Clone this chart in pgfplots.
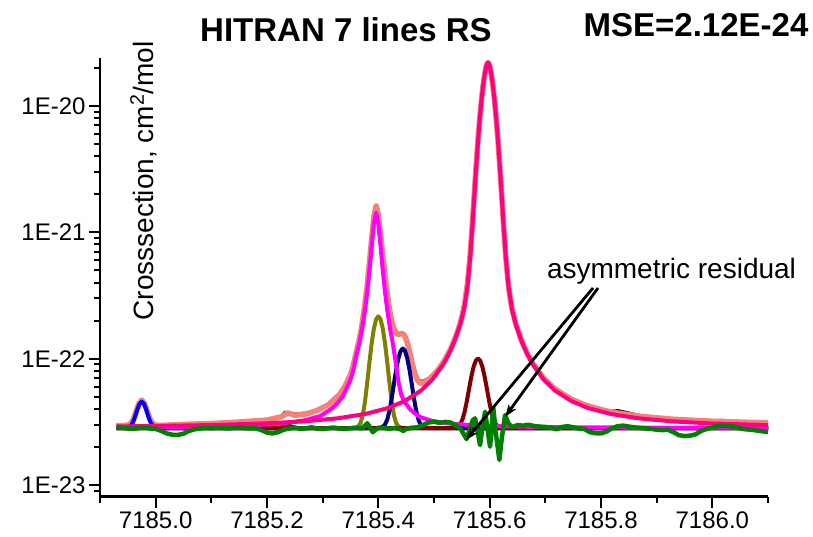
\documentclass[border=0pt]{standalone}
\usepackage{fontspec}
\setmainfont{Liberation Sans}
\usepackage{pgfplots}
\pgfplotsset{compat=1.18}
\usetikzlibrary{arrows.meta}

\definecolor{cData}{RGB}{0,0,0}
\definecolor{cSum}{RGB}{245,130,120}
\definecolor{cMag}{RGB}{255,0,255}
\definecolor{cOlive}{RGB}{128,128,0}
\definecolor{cNavy}{RGB}{0,0,128}
\definecolor{cBlue}{RGB}{0,0,255}
\definecolor{cWine}{RGB}{128,0,0}
\definecolor{cPink}{RGB}{255,0,128}
\definecolor{cRes}{RGB}{0,128,0}

% measured spectrum
\pgfplotstableread{
x y
7184.930 3.020e-23
7184.940 2.990e-23
7184.950 3.010e-23
7184.955 3.090e-23
7184.960 3.340e-23
7184.965 3.840e-23
7184.970 4.450e-23
7184.975 4.700e-23
7184.980 4.400e-23
7184.985 3.800e-23
7184.990 3.290e-23
7184.995 3.040e-23
7185.000 2.950e-23
7185.010 2.920e-23
7185.020 2.880e-23
7185.035 2.860e-23
7185.050 2.920e-23
7185.070 3.040e-23
7185.085 3.070e-23
7185.100 3.090e-23
7185.120 3.130e-23
7185.135 3.120e-23
7185.150 3.180e-23
7185.170 3.200e-23
7185.185 3.230e-23
7185.200 3.280e-23
7185.215 3.340e-23
7185.225 3.500e-23
7185.232 3.760e-23
7185.240 3.740e-23
7185.250 3.650e-23
7185.260 3.680e-23
7185.270 3.700e-23
7185.280 3.800e-23
7185.290 3.940e-23
7185.300 4.100e-23
7185.310 4.360e-23
7185.320 4.700e-23
7185.330 5.260e-23
7185.340 6.100e-23
7185.350 7.550e-23
7185.355 8.850e-23
7185.360 1.106e-22
7185.365 1.359e-22
7185.370 1.776e-22
7185.375 2.506e-22
7185.380 3.808e-22
7185.384 5.704e-22
7185.388 8.831e-22
7185.392 1.328e-21
7185.396 1.614e-21
7185.400 1.373e-21
7185.404 9.570e-22
7185.408 6.525e-22
7185.412 4.536e-22
7185.416 3.246e-22
7185.420 2.455e-22
7185.424 1.984e-22
7185.428 1.727e-22
7185.432 1.591e-22
7185.436 1.548e-22
7185.440 1.574e-22
7185.444 1.574e-22
7185.448 1.499e-22
7185.452 1.340e-22
7185.456 1.138e-22
7185.460 9.510e-23
7185.465 7.900e-23
7185.470 6.980e-23
7185.475 6.650e-23
7185.480 6.620e-23
7185.490 6.950e-23
7185.500 7.600e-23
7185.510 8.600e-23
7185.520 1.000e-22
7185.530 1.205e-22
7185.540 1.535e-22
7185.545 1.777e-22
7185.550 2.134e-22
7185.555 2.715e-22
7185.560 3.879e-22
7185.565 6.689e-22
7185.569 1.182e-21
7185.573 2.203e-21
7185.576 3.481e-21
7185.579 5.328e-21
7185.582 7.795e-21
7185.585 1.083e-20
7185.588 1.425e-20
7185.591 1.777e-20
7185.594 2.077e-20
7185.597 2.205e-20
7185.600 2.075e-20
7185.603 1.773e-20
7185.606 1.420e-20
7185.609 1.077e-20
7185.612 7.725e-21
7185.615 5.255e-21
7185.618 3.410e-21
7185.621 2.138e-21
7185.625 1.130e-21
7185.629 6.310e-22
7185.634 3.670e-22
7185.640 2.483e-22
7185.647 1.900e-22
7185.657 1.425e-22
7185.667 1.135e-22
7185.677 9.450e-23
7185.687 8.100e-23
7185.697 7.150e-23
7185.707 6.450e-23
7185.717 5.900e-23
7185.732 5.280e-23
7185.747 4.860e-23
7185.762 4.500e-23
7185.777 4.300e-23
7185.790 4.120e-23
7185.805 3.880e-23
7185.817 3.830e-23
7185.830 3.880e-23
7185.845 3.760e-23
7185.867 3.560e-23
7185.885 3.450e-23
7185.905 3.360e-23
7185.927 3.300e-23
7185.950 3.250e-23
7185.975 3.200e-23
7185.997 3.190e-23
7186.015 3.250e-23
7186.035 3.220e-23
7186.050 3.120e-23
7186.075 3.060e-23
7186.100 3.040e-23
}\measured

% sum of the seven fitted lines
\pgfplotstableread{
x y
7184.930 2.947e-23
7184.940 2.950e-23
7184.950 2.975e-23
7184.955 3.062e-23
7184.960 3.321e-23
7184.965 3.828e-23
7184.970 4.424e-23
7184.975 4.702e-23
7184.980 4.424e-23
7184.985 3.828e-23
7184.990 3.321e-23
7184.995 3.062e-23
7185.000 2.980e-23
7185.010 2.962e-23
7185.050 3.020e-23
7185.100 3.065e-23
7185.150 3.152e-23
7185.200 3.266e-23
7185.225 3.456e-23
7185.237 3.721e-23
7185.250 3.565e-23
7185.270 3.647e-23
7185.290 3.888e-23
7185.310 4.310e-23
7185.330 5.185e-23
7185.340 6.030e-23
7185.350 7.480e-23
7185.355 8.810e-23
7185.360 1.106e-22
7185.365 1.359e-22
7185.370 1.776e-22
7185.375 2.506e-22
7185.380 3.808e-22
7185.384 5.704e-22
7185.388 8.831e-22
7185.392 1.328e-21
7185.396 1.614e-21
7185.400 1.373e-21
7185.404 9.570e-22
7185.408 6.525e-22
7185.412 4.536e-22
7185.416 3.246e-22
7185.420 2.455e-22
7185.424 1.984e-22
7185.428 1.727e-22
7185.432 1.591e-22
7185.436 1.548e-22
7185.440 1.574e-22
7185.444 1.574e-22
7185.448 1.499e-22
7185.452 1.340e-22
7185.456 1.138e-22
7185.460 9.510e-23
7185.465 7.740e-23
7185.470 6.780e-23
7185.475 6.400e-23
7185.480 6.400e-23
7185.490 6.780e-23
7185.500 7.470e-23
7185.510 8.450e-23
7185.520 9.870e-23
7185.530 1.196e-22
7185.540 1.530e-22
7185.545 1.777e-22
7185.550 2.134e-22
7185.555 2.715e-22
7185.560 3.879e-22
7185.565 6.689e-22
7185.569 1.182e-21
7185.573 2.203e-21
7185.576 3.481e-21
7185.579 5.328e-21
7185.582 7.795e-21
7185.585 1.083e-20
7185.588 1.425e-20
7185.591 1.777e-20
7185.594 2.077e-20
7185.597 2.205e-20
7185.600 2.075e-20
7185.603 1.773e-20
7185.606 1.420e-20
7185.609 1.077e-20
7185.612 7.725e-21
7185.615 5.255e-21
7185.618 3.410e-21
7185.621 2.138e-21
7185.625 1.130e-21
7185.629 6.310e-22
7185.634 3.670e-22
7185.640 2.483e-22
7185.647 1.877e-22
7185.657 1.400e-22
7185.667 1.112e-22
7185.677 9.240e-23
7185.697 6.990e-23
7185.717 5.760e-23
7185.747 4.760e-23
7185.777 4.200e-23
7185.817 3.790e-23
7185.867 3.510e-23
7185.927 3.320e-23
7185.997 3.200e-23
7186.050 3.150e-23
7186.100 3.100e-23
}\fitsum

% individual lines (each on the common baseline)
\pgfplotstableread{
x y
7184.930 2.820e-23
7184.945 2.820e-23
7184.950 2.843e-23
7184.955 2.930e-23
7184.959 3.118e-23
7184.963 3.466e-23
7184.967 3.944e-23
7184.971 4.386e-23
7184.975 4.570e-23
7184.979 4.386e-23
7184.983 3.944e-23
7184.987 3.466e-23
7184.991 3.118e-23
7184.995 2.930e-23
7185.000 2.843e-23
7185.005 2.820e-23
7186.100 2.820e-23
}\lineA

\pgfplotstableread{
x y
7184.930 2.820e-23
7185.215 2.820e-23
7185.222 2.835e-23
7185.228 2.880e-23
7185.233 2.930e-23
7185.237 2.960e-23
7185.241 2.930e-23
7185.246 2.880e-23
7185.252 2.835e-23
7185.259 2.820e-23
7186.100 2.820e-23
}\lineB

\pgfplotstableread{
x y
7184.930 2.855e-23
7184.996 2.865e-23
7185.096 2.900e-23
7185.176 2.970e-23
7185.226 3.070e-23
7185.266 3.240e-23
7185.296 3.520e-23
7185.316 4.020e-23
7185.326 4.420e-23
7185.336 5.020e-23
7185.346 6.220e-23
7185.351 7.020e-23
7185.356 8.420e-23
7185.361 1.082e-22
7185.366 1.322e-22
7185.371 1.732e-22
7185.376 2.422e-22
7185.380 3.362e-22
7185.384 4.962e-22
7185.388 7.702e-22
7185.392 1.174e-21
7185.396 1.428e-21
7185.400 1.174e-21
7185.404 7.702e-22
7185.408 4.962e-22
7185.412 3.362e-22
7185.416 2.422e-22
7185.421 1.732e-22
7185.426 1.322e-22
7185.431 9.420e-23
7185.436 6.620e-23
7185.441 5.220e-23
7185.446 4.620e-23
7185.456 4.020e-23
7185.466 3.670e-23
7185.476 3.440e-23
7185.496 3.220e-23
7185.526 3.070e-23
7185.566 2.980e-23
7185.616 2.920e-23
7185.696 2.875e-23
7185.796 2.855e-23
7186.100 2.835e-23
}\lineC

\pgfplotstableread{
x y
7184.930 2.820e-23
7185.350 2.820e-23
7185.358 2.833e-23
7185.364 2.909e-23
7185.368 3.093e-23
7185.372 3.557e-23
7185.376 4.561e-23
7185.380 6.420e-23
7185.384 9.347e-23
7185.388 1.319e-22
7185.392 1.725e-22
7185.396 2.042e-22
7185.400 2.162e-22
7185.404 2.042e-22
7185.408 1.725e-22
7185.412 1.319e-22
7185.416 9.347e-23
7185.420 6.420e-23
7185.424 4.561e-23
7185.428 3.557e-23
7185.432 3.093e-23
7185.436 2.909e-23
7185.442 2.833e-23
7185.450 2.820e-23
7186.100 2.820e-23
}\lineD

\pgfplotstableread{
x y
7184.930 2.820e-23
7185.394 2.820e-23
7185.402 2.832e-23
7185.408 2.889e-23
7185.412 3.012e-23
7185.416 3.295e-23
7185.420 3.862e-23
7185.424 4.848e-23
7185.428 6.315e-23
7185.432 8.160e-23
7185.436 1.004e-22
7185.440 1.148e-22
7185.444 1.202e-22
7185.448 1.148e-22
7185.452 1.004e-22
7185.456 8.160e-23
7185.460 6.315e-23
7185.464 4.848e-23
7185.468 3.862e-23
7185.472 3.295e-23
7185.476 3.012e-23
7185.480 2.889e-23
7185.486 2.832e-23
7185.494 2.820e-23
7186.100 2.820e-23
}\lineE

\pgfplotstableread{
x y
7184.930 2.820e-23
7185.529 2.820e-23
7185.537 2.836e-23
7185.543 2.900e-23
7185.547 3.026e-23
7185.551 3.293e-23
7185.555 3.794e-23
7185.559 4.616e-23
7185.563 5.780e-23
7185.567 7.187e-23
7185.571 8.585e-23
7185.575 9.630e-23
7185.579 1.002e-22
7185.583 9.630e-23
7185.587 8.585e-23
7185.591 7.187e-23
7185.595 5.780e-23
7185.599 4.616e-23
7185.603 3.794e-23
7185.607 3.293e-23
7185.611 3.026e-23
7185.615 2.900e-23
7185.621 2.836e-23
7185.629 2.820e-23
7186.100 2.820e-23
}\lineF

\pgfplotstableread{
x y
7184.930 2.908e-23
7184.997 2.932e-23
7185.097 2.981e-23
7185.197 3.072e-23
7185.267 3.190e-23
7185.327 3.373e-23
7185.377 3.652e-23
7185.417 4.062e-23
7185.447 4.608e-23
7185.477 5.608e-23
7185.497 6.827e-23
7185.517 9.060e-23
7185.527 1.094e-22
7185.537 1.382e-22
7185.547 1.858e-22
7185.554 2.464e-22
7185.560 3.650e-22
7185.565 6.300e-22
7185.569 1.129e-21
7185.573 2.137e-21
7185.576 3.409e-21
7185.579 5.254e-21
7185.582 7.723e-21
7185.585 1.076e-20
7185.588 1.420e-20
7185.591 1.770e-20
7185.594 2.074e-20
7185.597 2.200e-20
7185.600 2.074e-20
7185.603 1.770e-20
7185.606 1.420e-20
7185.609 1.076e-20
7185.612 7.723e-21
7185.615 5.254e-21
7185.618 3.409e-21
7185.621 2.137e-21
7185.625 1.129e-21
7185.629 6.300e-22
7185.634 3.650e-22
7185.640 2.464e-22
7185.647 1.858e-22
7185.657 1.382e-22
7185.667 1.094e-22
7185.677 9.060e-23
7185.697 6.827e-23
7185.717 5.608e-23
7185.747 4.608e-23
7185.777 4.062e-23
7185.817 3.652e-23
7185.867 3.373e-23
7185.927 3.190e-23
7185.997 3.072e-23
7186.100 2.979e-23
}\lineG

% residual (measured - fit), shown on the baseline
\pgfplotstableread{
x y
7184.930 2.88e-23
7184.940 2.84e-23
7184.950 2.80e-23
7184.960 2.79e-23
7184.970 2.82e-23
7184.980 2.85e-23
7184.990 2.80e-23
7185.000 2.78e-23
7185.010 2.68e-23
7185.020 2.56e-23
7185.030 2.50e-23
7185.040 2.49e-23
7185.050 2.55e-23
7185.060 2.68e-23
7185.070 2.76e-23
7185.080 2.80e-23
7185.090 2.83e-23
7185.100 2.81e-23
7185.110 2.84e-23
7185.120 2.82e-23
7185.130 2.80e-23
7185.140 2.83e-23
7185.150 2.85e-23
7185.160 2.82e-23
7185.170 2.80e-23
7185.180 2.81e-23
7185.190 2.72e-23
7185.200 2.60e-23
7185.210 2.56e-23
7185.220 2.62e-23
7185.230 2.74e-23
7185.240 2.80e-23
7185.250 2.84e-23
7185.260 2.79e-23
7185.270 2.81e-23
7185.280 2.86e-23
7185.290 2.80e-23
7185.300 2.77e-23
7185.310 2.82e-23
7185.320 2.85e-23
7185.330 2.80e-23
7185.340 2.78e-23
7185.350 2.82e-23
7185.360 2.84e-23
7185.370 2.80e-23
7185.375 2.92e-23
7185.380 3.08e-23
7185.385 2.86e-23
7185.390 2.62e-23
7185.395 2.74e-23
7185.400 2.84e-23
7185.410 2.82e-23
7185.420 2.79e-23
7185.430 2.83e-23
7185.440 2.76e-23
7185.445 2.68e-23
7185.450 2.78e-23
7185.460 2.84e-23
7185.470 2.86e-23
7185.480 2.98e-23
7185.490 3.12e-23
7185.500 3.17e-23
7185.510 3.10e-23
7185.520 3.16e-23
7185.530 3.12e-23
7185.540 2.95e-23
7185.547 2.82e-23
7185.553 2.55e-23
7185.5585 2.31e-23
7185.5645 2.80e-23
7185.5695 3.25e-23
7185.5737 3.37e-23
7185.578 2.70e-23
7185.5827 2.07e-23
7185.587 2.85e-23
7185.5917 3.80e-23
7185.596 2.80e-23
7185.6007 2.01e-23
7185.6035 2.80e-23
7185.6066 4.05e-23
7185.611 2.60e-23
7185.6174 1.58e-23
7185.622 2.40e-23
7185.6277 3.58e-23
7185.6336 3.08e-23
7185.640 2.86e-23
7185.650 2.98e-23
7185.660 2.95e-23
7185.670 3.00e-23
7185.680 2.93e-23
7185.690 2.90e-23
7185.700 2.88e-23
7185.710 2.85e-23
7185.720 2.76e-23
7185.730 2.88e-23
7185.740 2.92e-23
7185.750 2.86e-23
7185.760 2.80e-23
7185.770 2.78e-23
7185.780 2.62e-23
7185.790 2.57e-23
7185.800 2.56e-23
7185.810 2.65e-23
7185.820 2.82e-23
7185.830 2.92e-23
7185.840 2.95e-23
7185.850 2.90e-23
7185.860 2.86e-23
7185.870 2.83e-23
7185.880 2.80e-23
7185.890 2.78e-23
7185.900 2.74e-23
7185.910 2.72e-23
7185.920 2.74e-23
7185.930 2.62e-23
7185.940 2.48e-23
7185.950 2.44e-23
7185.960 2.46e-23
7185.970 2.52e-23
7185.980 2.68e-23
7185.990 2.78e-23
7186.000 2.86e-23
7186.010 2.93e-23
7186.020 2.95e-23
7186.030 2.92e-23
7186.040 2.90e-23
7186.050 2.80e-23
7186.060 2.76e-23
7186.070 2.74e-23
7186.080 2.70e-23
7186.090 2.66e-23
7186.100 2.63e-23
}\residual

\begin{document}
\begin{tikzpicture}
\useasboundingbox (0,0) rectangle (813pt,537pt);
\begin{axis}[
  at={(100pt,40.3pt)}, anchor=south west,
  scale only axis, width=668pt, height=438.7pt,
  xmin=7184.9, xmax=7186.1,
  ymode=log, ymin=8.08e-24, ymax=2.388e-20,
  axis x line=bottom, axis y line=left,
  axis line style={line width=2.5pt, -},
  tick align=outside,
  major tick length=11pt, minor tick length=6pt,
  tick style={line width=2pt, black},
  xtick={7185.0,7185.2,7185.4,7185.6,7185.8,7186.0},
  xticklabels={7185.0,7185.2,7185.4,7185.6,7185.8,7186.0},
  minor xtick={7184.9,7185.1,7185.3,7185.5,7185.7,7185.9,7186.1},
  ytick={1e-23,1e-22,1e-21,1e-20},
  yticklabels={1E-23,1E-22,1E-21,1E-20},
  minor ytick={9e-24,2e-23,3e-23,4e-23,5e-23,6e-23,7e-23,8e-23,9e-23,
    2e-22,3e-22,4e-22,5e-22,6e-22,7e-22,8e-22,9e-22,
    2e-21,3e-21,4e-21,5e-21,6e-21,7e-21,8e-21,9e-21,2e-20},
  tick label style={font=\fontsize{24}{24}\selectfont},
  clip=false,
]
\addplot[cData, line width=3pt, line join=round] table {\measured};
\addplot[cSum, line width=5.5pt, line join=round] table {\fitsum};
\addplot[cBlue, line width=4pt, line join=round] table {\lineA};
\addplot[cWine, line width=4pt, line join=round] table {\lineB};
\addplot[cOlive, line width=4pt, line join=round] table {\lineD};
\addplot[cNavy, line width=4pt, line join=round] table {\lineE};
\addplot[cWine, line width=4pt, line join=round] table {\lineF};
\addplot[cMag, line width=4pt, line join=round] table {\lineC};
\addplot[cPink, line width=4pt, line join=round] table {\lineG};
\addplot[cRes, line width=4.5pt, line join=round] table {\residual};
\end{axis}

% titles and annotation
\node[anchor=base, font=\fontsize{33}{33}\selectfont\bfseries] at (346pt,495pt) {HITRAN 7 lines RS};
\node[anchor=base, font=\fontsize{33}{33}\selectfont\bfseries] at (696pt,500pt) {MSE=2.12E-24};
\node[anchor=base, rotate=90, font=\fontsize{28}{28}\selectfont] at (153pt,356pt) {Crosssection, cm\textsuperscript{2}/mol};
\node[anchor=base, font=\fontsize{28}{28}\selectfont] at (671.5pt,258pt) {asymmetric residual};
\draw[line width=2.8pt, -{Stealth[length=13pt,width=9pt]}] (593pt,249pt) -- (466pt,97pt);
\draw[line width=2.8pt, -{Stealth[length=13pt,width=9pt]}] (598pt,249pt) -- (505pt,120pt);
\end{tikzpicture}
\end{document}
